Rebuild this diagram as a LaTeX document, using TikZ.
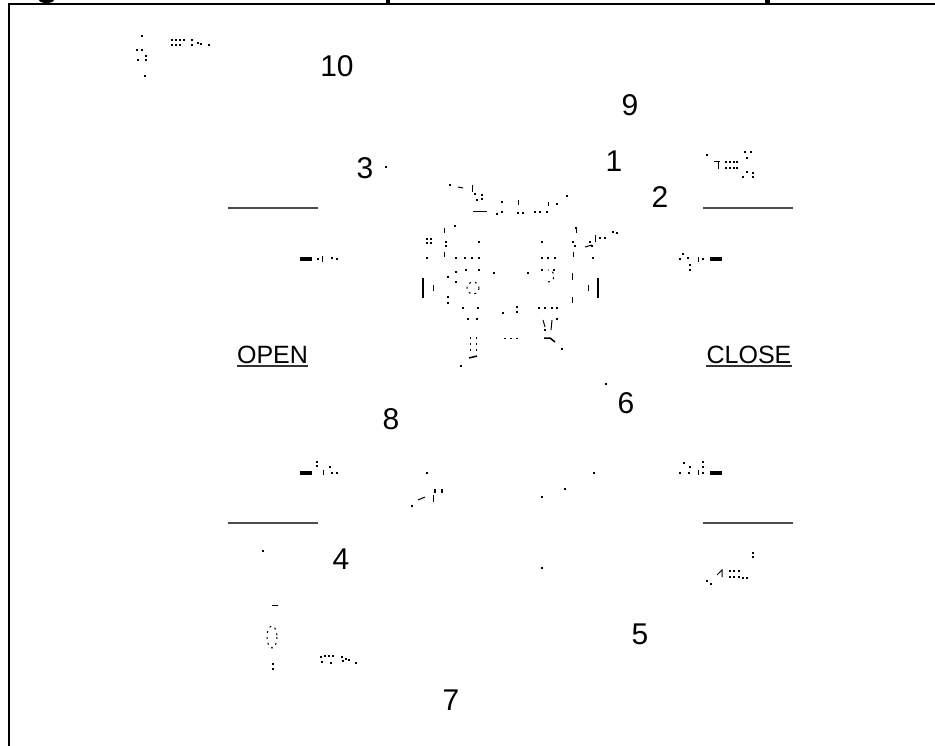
\documentclass[tikz,border=0pt]{standalone}
\usepackage{fontspec}
\setmainfont{Liberation Sans}
\usetikzlibrary{positioning}
\tikzset{
	numlabel/.style={inner sep=0pt,font=\fontsize{30}{30}\selectfont},
	sidelabel/.style={inner sep=0pt,anchor=base,font=\fontsize{25}{25}\selectfont},
	underrule/.style={draw=black!80,line width=1.5pt},
	shelf/.style={draw=black!70,line width=1.5pt},
	blob/.style={draw=black,line width=4pt},
	stub/.style={draw=black,line width=1pt},
	dotted oval/.style={draw=black,line width=1pt,dash pattern=on 2pt off 4pt}
}
\newcommand{\specks}[1]{\foreach \px/\py in {#1} {\fill (\px-0.8,\py-0.8) rectangle (\px+0.8,\py+0.8);}}
\begin{document}
\begin{tikzpicture}[x=1pt,y=-1pt]
	\useasboundingbox (0,0) rectangle (935,746);
	\fill[white] (0,0) rectangle (935,746);
	% frame and what is left of the heading
	\draw[black,line width=2pt] (9,746) -- (9,4) -- (935,4);
	\fill (39,0) arc (180:0:7.5 and 3) -- cycle;
	\fill (386,0) rectangle (390,3);
	\fill (765,0) rectangle (770,3);
	% numbers
	\node[numlabel] (n10) at (337,66) {10};
	\node[numlabel] (n9) at (630,105) {9};
	\node[numlabel] (n3) at (365,168) {3};
	\node[numlabel] (n1) at (614,161) {1};
	\node[numlabel] (n2) at (660,197) {2};
	\node[numlabel] (n6) at (626,403) {6};
	\node[numlabel] (n8) at (391,419) {8};
	\node[numlabel] (n4) at (341,559) {4};
	\node[numlabel] (n5) at (640,634) {5};
	\node[numlabel] (n7) at (451,700) {7};
	\node[sidelabel] (open) at (272.5,363) {OPEN};
	\node[sidelabel] (close) at (749,363) {CLOSE};
	\draw[underrule] ([yshift=-3pt]open.base west) -- ([yshift=-3pt]open.base east);
	\draw[underrule] ([yshift=-3pt]close.base west) -- ([yshift=-3pt]close.base east);
	% shelves
	\foreach \sx/\sy in {228/208,703/208,228/523,703/523} {
		\draw[shelf] (\sx,\sy) -- ++(90,0);
	}
	% solid arrow bodies
	\foreach \bx/\by in {300/259,710/259,300/473,710/473} {
		\draw[blob] (\bx,\by) -- ++(12,0);
	}
	% upper left and lower left remains
	\specks{142/36,137/50,142/50,138/60,146/56,146/60,145/76,172/40,176/40,180/40,184/40,172/45,176/45,180/45,192/40,192/45,198/43,201/44,209/45}
	\specks{386/167,318/259,332/258,337/259,263/551,317/462,317/466,330/467,332/473,337/473}
	\draw[stub] (322,256) -- (322,262);
	\draw[stub] (323,470) -- (323,475);
	\draw[stub] (272,605) -- (278,605);
	\draw[dotted oval] (272,637) ellipse (5 and 11);
	\specks{273/664,273/669,321/657,325/656,329/656,333/656,322/662,331/663,342/657,343/661,346/659,349/660,356/663}
	% lower middle and lower right remains
	\specks{427/473,435/490,442/490,435/492,442/492,412/506,594/473,565/489,542/497,542/568}
	\draw[stub] (433,495) -- (433,502);
	\draw[stub] (418,500) -- (425,497);
	\specks{684/463,690/467,703/462,703/467,680/473,689/473,703/473,753/553,753/557}
	\draw[stub] (698,470) -- (698,475);
	\draw[stub] (717,575) -- (722,570) -- (722,577);
	\specks{730/571,734/571,739/571,730/577,734/577,739/577,743/578,747/578,707/581,711/584}
	% upper right remains
	\specks{707/155,726/162,730/162,734/162,737/162,726/168,730/168,734/168,737/168,745/152,751/152,747/158,747/172,753/173,753/177,743/177}
	\draw[stub] (714,162) -- (720,162);
	\draw[stub] (718,162) -- (718,169);
	\specks{683/254,688/258,680/259,690/265,690/270,703/259}
	\draw[stub] (698,257) -- (698,262);
	% centre remains
	\specks{615/170,450/185,475/194,482/195,477/200,482/199,502/202,557/204,567/196,497/214,502/212,518/213,523/213,535/212,540/212,547/212}
	\draw[stub] (458,187) -- (463,188);
	\draw[stub] (472,185) -- (472,192);
	\draw[stub] (518,200) -- (518,205);
	\draw[stub] (548,202) -- (548,206);
	\draw[stub] (473,212) -- (487,212);
	\specks{455/226,427/239,431/239,427/243,431/243,446/242,446/246,479/242,427/258,456/258,465/258,472/258,479/258,456/272,466/270,479/270,448/277,456/282,448/297,448/303,463/308,478/308,503/313,517/312,517/307,494/273,528/273}
	\draw[stub] (444,228) -- (444,233);
	\draw[stub] (444,252) -- (444,257);
	\draw[stub] (433,285) -- (433,291);
	\draw[line width=1.5pt] (423,278) -- (423,298);
	\draw[dotted oval] (473,288) circle (6);
	\specks{576/228,542/242,573/242,575/246,600/238,605/238,590/242,592/246,613/232,617/233,593/258,542/258,548/258,555/258,542/270,554/270,539/308,545/308,552/308,557/308,468/319,477/319,557/319,545/330,461/366,562/349,606/384}
	\draw[stub] (576,228) -- (576,233);
	\draw[stub] (573,252) -- (573,257);
	\draw[stub] (585,247) -- (592,245);
	\draw[stub] (595,235) -- (595,242);
	\draw[stub] (572,273) -- (572,280);
	\draw[stub] (572,297) -- (572,303);
	\draw[stub] (588,285) -- (588,291);
	\draw[line width=1.5pt] (598,278) -- (598,298);
	\draw[dotted oval] (548,282) arc (90:-90:6);
	\draw[stub] (543,320) -- (545,327);
	\draw[stub] (552,320) -- (551,330);
	\draw[dotted oval] (470,337) -- (470,352);
	\draw[dotted oval] (476,337) -- (476,352);
	\draw[dotted oval] (504,338) -- (520,338);
	\draw[line width=1.5pt] (469,358) -- (477,356);
	\draw[line width=1.5pt] (544,338) -- (550,338) -- (555,342);
\end{tikzpicture}
\end{document}
